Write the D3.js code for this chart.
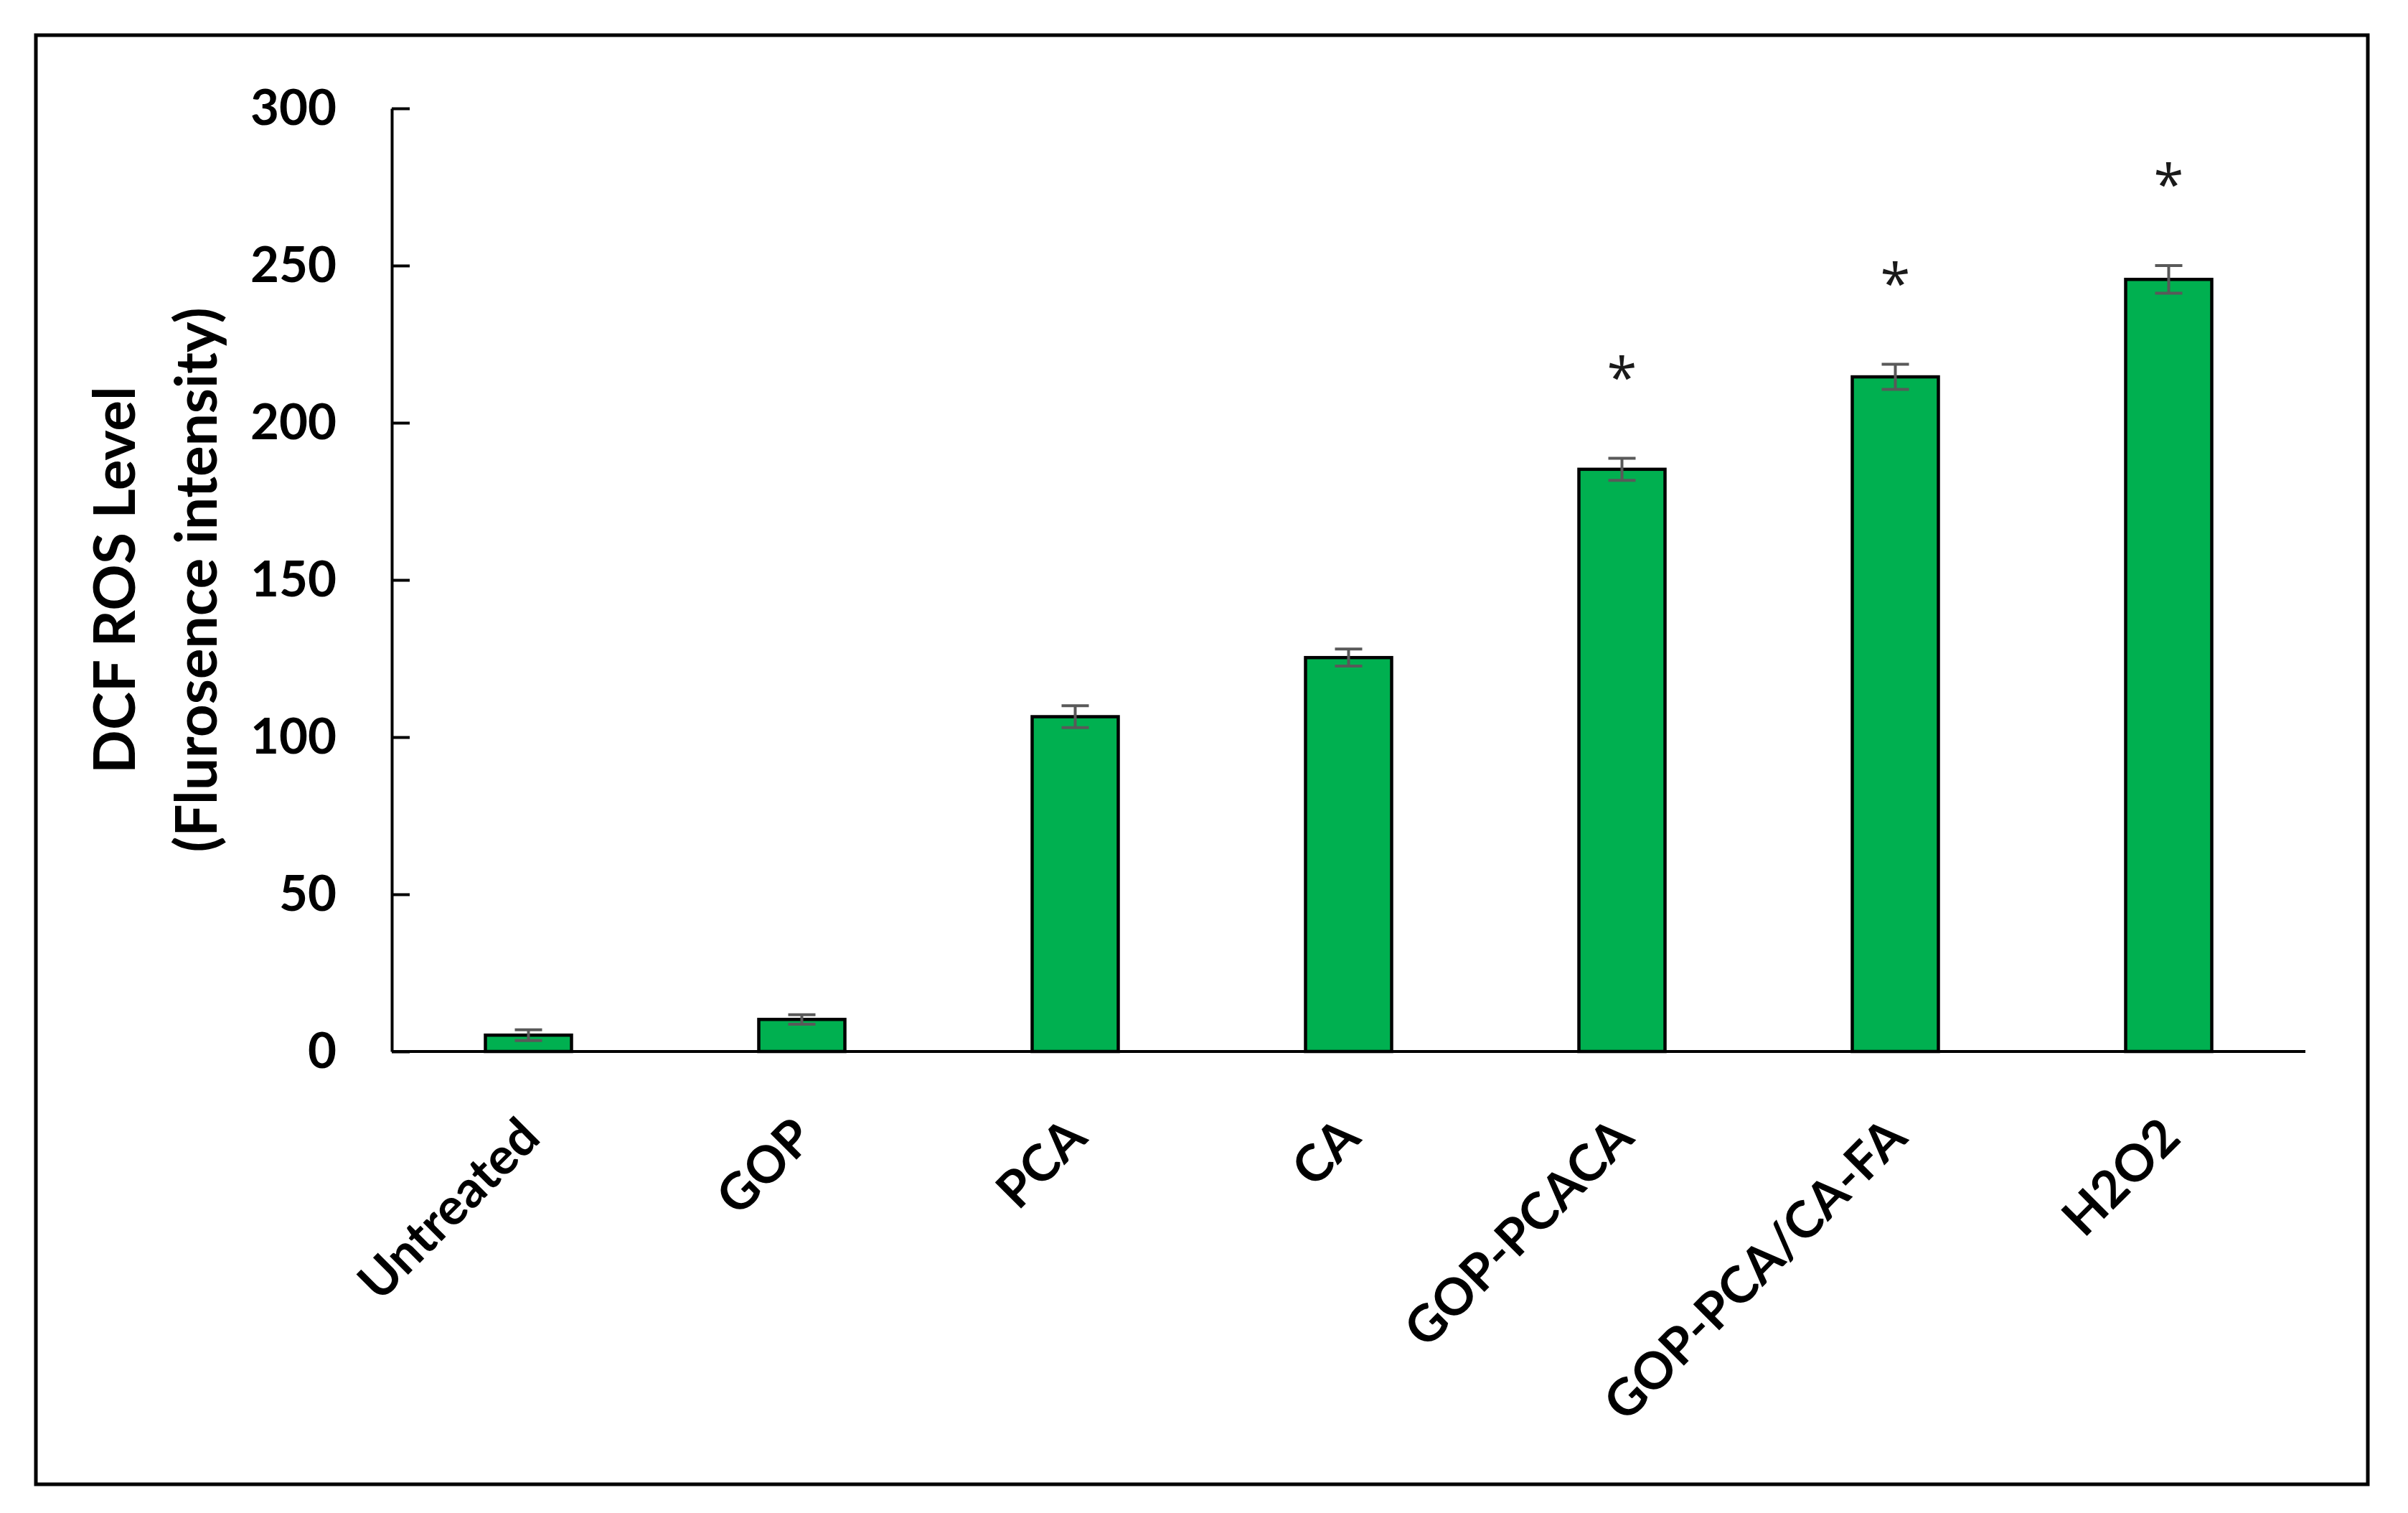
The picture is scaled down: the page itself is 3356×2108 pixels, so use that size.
<!DOCTYPE html>
<html>
<head>
<meta charset="utf-8">
<script src="https://cdn.jsdelivr.net/npm/d3@7"></script>
<style>
  html, body { margin: 0; padding: 0; background: #fff; }
  svg { display: block; }
</style>
</head>
<body>
<svg id="chart" width="3356" height="2108"></svg>
<script>
// ---- data ----
const categories = ["Untreated", "GOP", "PCA", "CA", "GOP-PCACA", "GOP-PCA/CA-FA", "H2O2"];
const values     = [5.2, 10.2, 106.5, 125.3, 185.2, 214.6, 245.6];
const errors     = [1.7, 1.5, 3.5, 2.7, 3.5, 4.0, 4.4];
const significant = [false, false, false, false, true, true, true];
const yTicks     = [0, 50, 100, 150, 200, 250, 300];
const yTitleLines = ["DCF ROS Level", "(Flurosence intensity)"];

// ---- layout ----
const W = 3356, H = 2108;
const plot = { left: 546, right: 3213, top: 151, bottom: 1465 };
const FONT = "Lato, 'Open Sans', sans-serif";

const svg = d3.select("#chart");
svg.append("rect").attr("x", 0).attr("y", 0).attr("width", W).attr("height", H).attr("fill", "#fff");

// outer frame
svg.append("rect")
  .attr("x", 50).attr("y", 49).attr("width", 3250).attr("height", 2019)
  .attr("fill", "none").attr("stroke", "#000").attr("stroke-width", 5);

const x = d3.scaleBand().domain(categories).range([plot.left, plot.right])
  .paddingInner(0.685).paddingOuter(0.3425);
const y = d3.scaleLinear().domain([0, 300]).range([plot.bottom, plot.top]);

// bars
svg.append("g").selectAll("rect").data(categories).join("rect")
  .attr("x", d => x(d))
  .attr("y", (d, i) => y(values[i]))
  .attr("width", x.bandwidth())
  .attr("height", (d, i) => y(0) - y(values[i]))
  .attr("fill", "#00B050")
  .attr("stroke", "#000")
  .attr("stroke-width", 4.5);

// error bars
const eg = svg.append("g").attr("stroke", "#595959").attr("stroke-width", 4).attr("fill", "none");
categories.forEach((c, i) => {
  const cx = x(c) + x.bandwidth() / 2;
  const y1 = y(values[i] + errors[i]), y2 = y(values[i] - errors[i]);
  const cap = 19;
  eg.append("line").attr("x1", cx).attr("x2", cx).attr("y1", y1).attr("y2", y2);
  eg.append("line").attr("x1", cx - cap).attr("x2", cx + cap).attr("y1", y1).attr("y2", y1);
  eg.append("line").attr("x1", cx - cap).attr("x2", cx + cap).attr("y1", y2).attr("y2", y2);
});

// significance asterisks
svg.append("g").selectAll("text").data(categories.filter((c, i) => significant[i])).join("text")
  .attr("x", d => x(d) + x.bandwidth() / 2)
  .attr("y", d => { const i = categories.indexOf(d); return y(values[i] + errors[i]) - 132; })
  .attr("dy", "0.62em")
  .attr("text-anchor", "middle")
  .attr("font-family", "'Open Sans', sans-serif")
  .attr("font-size", 76)
  .attr("fill", "#1a1a1a")
  .text("*");

// y axis
const yAxis = d3.axisLeft(y).tickValues(yTicks).tickSizeInner(-25).tickSizeOuter(0).tickPadding(77);
const yg = svg.append("g").attr("transform", `translate(${plot.left},0)`).call(yAxis);
yg.select(".domain").attr("stroke", "#000").attr("stroke-width", 4);
yg.selectAll(".tick line").attr("stroke", "#000").attr("stroke-width", 4);
yg.selectAll(".tick text").attr("font-family", FONT).attr("font-weight", 700)
  .attr("font-size", 69).attr("fill", "#000");

// x axis
const xAxis = d3.axisBottom(x).tickSize(0).tickSizeOuter(0);
const xg = svg.append("g").attr("transform", `translate(0,${plot.bottom})`).call(xAxis);
xg.select(".domain").attr("stroke", "#000").attr("stroke-width", 4)
  .attr("d", `M${plot.left},0H${plot.right}`);
xg.selectAll(".tick text")
  .attr("x", 0).attr("y", 0).attr("dy", "0.35em")
  .attr("transform", "translate(2,106) rotate(-45)")
  .attr("text-anchor", "end")
  .attr("font-family", FONT).attr("font-weight", 700)
  .attr("font-size", 71).attr("fill", "#000");

// y title
const baselines = [188, 302];
yTitleLines.forEach((t, i) => {
  svg.append("text")
    .attr("transform", `translate(${baselines[i]},${(plot.top + plot.bottom) / 2}) rotate(-90)`)
    .attr("text-anchor", "middle")
    .attr("font-family", FONT).attr("font-weight", 700)
    .attr("font-size", 80).attr("fill", "#000")
    .text(t);
});
</script>
</body>
</html>
